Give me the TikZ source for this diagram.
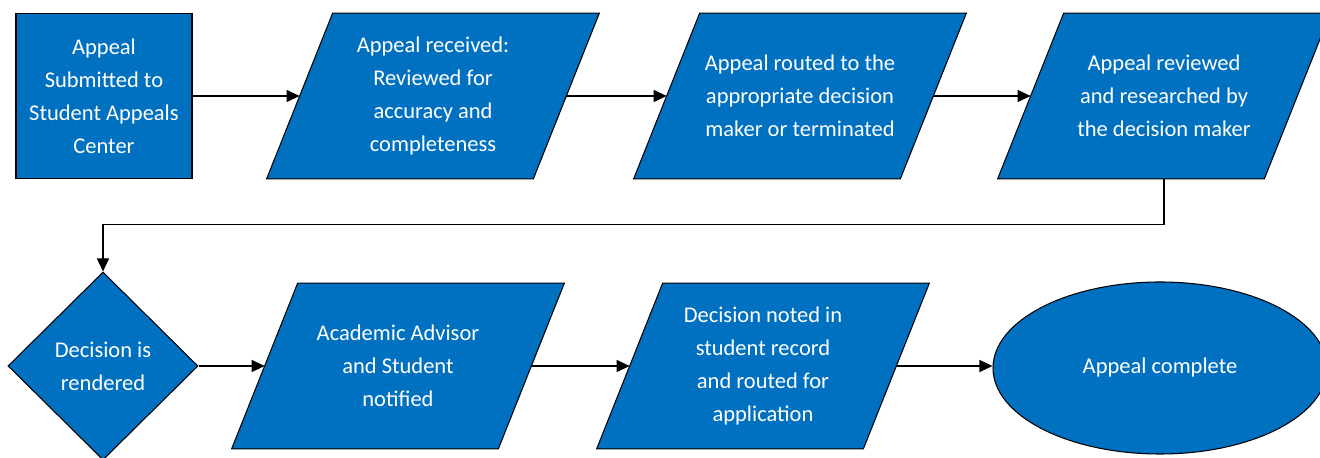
\documentclass[tikz,border=0pt]{standalone}
\usepackage{fontspec}
\setmainfont{Carlito}
\usetikzlibrary{shapes.geometric,arrows.meta,backgrounds}
\definecolor{stepblue}{RGB}{0,112,192}
\begin{document}
\begin{tikzpicture}[
  >={Triangle[length=2.6mm,width=2.4mm]},
  every node/.style = {text = white, align = center, inner sep = 0pt,
    font = \fontsize{12.8}{18.7}\selectfont},
  box/.style = {draw, fill = stepblue, line width = 0.6pt},
  proc/.style = {box, rectangle, minimum width = 3.52cm, minimum height = 3.3cm},
  io/.style = {rectangle, minimum width = 5.32cm, minimum height = 3.3cm},
  choice/.style = {box, diamond, minimum width = 3.8cm, minimum height = 3.76cm},
  finish/.style = {box, ellipse, minimum width = 6.68cm, minimum height = 3.44cm},
  line/.style = {draw, line width = 0.6pt}
]
\useasboundingbox (0,0) rectangle (26.4,-9.16);
% first row
\node[proc] at (2.08,-1.92) (submit) {Appeal\\Submitted to\\Student Appeals\\Center};
\node[io] at (8.66,-1.92) (recv) {Appeal received:\\Reviewed for\\accuracy and\\completeness};
\node[io] at (16.0,-1.92) (route) {Appeal routed to the\\appropriate decision\\maker or terminated};
\node[io] at (23.28,-1.92) (review) {Appeal reviewed\\and researched by\\the decision maker};
% second row
\node[choice] at (2.06,-7.32) (decide) {Decision is\\rendered};
\node[io] at (7.96,-7.32) (notify) {Academic Advisor\\and Student\\notified};
\node[io] at (15.26,-7.32) (record) {Decision noted in\\student record\\and routed for\\application};
\node[finish] at (23.2,-7.36) (done) {Appeal complete};
% slanted data boxes behind the text
\begin{scope}[on background layer]
\foreach \n in {recv,route,review,notify,record}
  \filldraw[box] ([xshift=-6.6mm]\n.south west) -- ([xshift=-6.6mm]\n.south east)
    -- ([xshift=6.6mm]\n.north east) -- ([xshift=6.6mm]\n.north west) -- cycle;
\end{scope}
\draw[line,->] (submit) -- (recv);
\draw[line,->] (recv) -- (route);
\draw[line,->] (route) -- (review);
\draw[line,->] (review.south) -- ++(0,-0.92) -| (decide.north);
\draw[line,->] (decide) -- (notify);
\draw[line,->] (notify) -- (record);
\draw[line,->] (record) -- (done.west |- record);
\end{tikzpicture}
\end{document}
